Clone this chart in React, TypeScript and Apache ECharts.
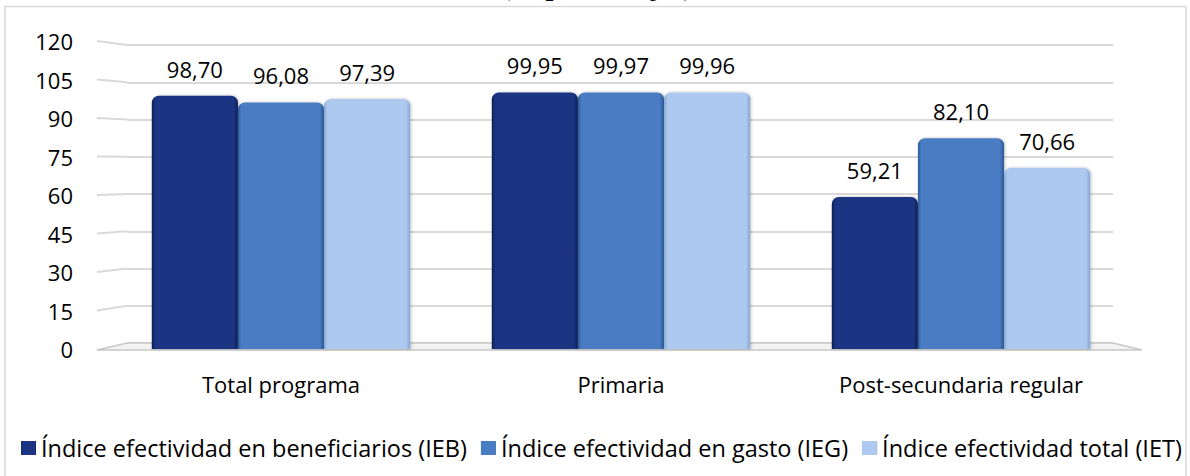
import React, { useEffect, useRef } from "react";
import * as echarts from "echarts";

const categories = ["Total programa", "Primaria", "Post-secundaria regular"];
const seriesNames = [
  "Índice efectividad en beneficiarios (IEB)",
  "Índice efectividad en gasto (IEG)",
  "Índice efectividad total (IET)",
];
const iebValues = [98.7, 99.95, 59.21];
const iegValues = [96.08, 99.97, 82.1];
const ietValues = [97.39, 99.96, 70.66];
const yMin = 0;
const yMax = 120;
const yInterval = 15;
const yTicks = [0, 15, 30, 45, 60, 75, 90, 105, 120];
const titleText = "(en porcentajes)";

const baseColors = ["#1c3483", "#4a7cc3", "#adc9ef"];
const edgeColors = ["#0e1e52", "#2c5896", "#86a6d2"];

const FONT = "'Open Sans', 'Noto Sans', sans-serif";

function fmt(v: number) {
  return v.toFixed(2).replace(".", ",");
}

function barGradient(i: number) {
  return new echarts.graphic.LinearGradient(0, 0, 1, 0, [
    { offset: 0, color: edgeColors[i] },
    { offset: 0.04, color: baseColors[i] },
    { offset: 0.95, color: baseColors[i] },
    { offset: 1, color: edgeColors[i] },
  ]);
}

export default function App() {
  const ref = useRef<HTMLDivElement>(null);

  useEffect(() => {
    if (!ref.current) return;
    const chart = echarts.init(ref.current, null, { renderer: "svg" });
    const allValues = [iebValues, iegValues, ietValues];

    const option: any = {
      animation: false,
      backgroundColor: "#ffffff",
      textStyle: { fontFamily: FONT },
      grid: [
        { left: 127, top: 45, width: 986, height: 298 },
        { left: 111, top: 41, width: 1020, height: 308 },
      ],
      xAxis: [
        { gridIndex: 0, type: "category", data: categories, show: false },
        {
          gridIndex: 1,
          type: "category",
          data: categories,
          axisLine: { show: false },
          axisTick: { show: false },
          axisLabel: { fontSize: 22, color: "#000", margin: 24, fontFamily: FONT },
        },
      ],
      yAxis: [
        {
          gridIndex: 0,
          type: "value",
          min: yMin,
          max: yMax,
          interval: yInterval,
          axisLabel: { show: false },
          axisLine: { show: false },
          axisTick: { show: false },
          splitLine: { show: true, lineStyle: { color: "#d9d9d9", width: 2 } },
        },
        {
          gridIndex: 1,
          type: "value",
          min: yMin,
          max: yMax,
          interval: yInterval,
          axisLabel: { fontSize: 22, color: "#000", margin: 38, fontFamily: FONT },
          axisLine: { show: false },
          axisTick: { show: false },
          splitLine: { show: false },
        },
      ],
      legend: {
        left: 16,
        top: 431,
        itemWidth: 15,
        itemHeight: 14,
        itemGap: 14,
        icon: "rect",
        data: seriesNames,
        textStyle: { fontSize: 23.5, color: "#000", fontFamily: FONT },
      },
      series: seriesNames.map((name, i) => ({
        name,
        type: "bar",
        xAxisIndex: 1,
        yAxisIndex: 1,
        data: allValues[i],
        barGap: "0%",
        barCategoryGap: "24%",
        z: 3,
        itemStyle: {
          color: barGradient(i),
          borderRadius: [7, 7, 0, 0],
          shadowColor: "rgba(0,0,0,0.25)",
          shadowBlur: 3,
          shadowOffsetX: 1,
        },
        label: {
          show: true,
          position: "top",
          distance: 16,
          fontSize: 22,
          color: "#000",
          fontFamily: FONT,
          formatter: (p: any) => fmt(p.value),
        },
      })),
    };
    chart.setOption(option);

    // perspective decorations computed from the axes
    const frontLeft = 97;
    const wallLeft = 127;
    const wallRight = 1113;
    const frontRight = 1142;
    const graphics: any[] = [];
    yTicks.forEach((v, k) => {
      const yf = chart.convertToPixel({ yAxisIndex: 1 } as any, v) as number;
      const yw = chart.convertToPixel({ yAxisIndex: 0 } as any, v) as number;
      if (v === 0) return;
      graphics.push({
        type: "line",
        id: "stub" + k,
        z: 0,
        shape: { x1: frontLeft, y1: yf, x2: wallLeft, y2: yw },
        style: { stroke: "#d9d9d9", lineWidth: 2 },
      });
    });
    const yf0 = chart.convertToPixel({ yAxisIndex: 1 } as any, 0) as number;
    const yw0 = chart.convertToPixel({ yAxisIndex: 0 } as any, 0) as number;
    graphics.push({
      type: "polygon",
      id: "floor",
      z: 1,
      shape: {
        points: [
          [frontLeft, yf0 + 1],
          [wallLeft, yw0],
          [wallRight, yw0],
          [frontRight, yf0 + 1],
        ],
      },
      style: { fill: "#f3f3f3", stroke: "#c8c8c8", lineWidth: 1.5 },
    });
    graphics.push({
      type: "rect",
      id: "border",
      z: 0,
      shape: { x: 5, y: 6.5, width: 1181, height: 490 },
      style: { fill: "none", stroke: "#d9d9d9", lineWidth: 1.5 },
    });
    graphics.push({
      type: "text",
      id: "title",
      z: 5,
      x: 597,
      y: -15,
      style: {
        text: titleText,
        font: "bold 28px 'Liberation Serif', 'DejaVu Serif', serif",
        fill: "#000",
        align: "center",
        verticalAlign: "middle",
      },
    });
    chart.setOption({ graphic: graphics });

    return () => chart.dispose();
  }, []);

  return (
    <div
      ref={ref}
      style={{ position: "absolute", left: 0, top: 0, width: 1190, height: 476, background: "#fff" }}
    />
  );
}
